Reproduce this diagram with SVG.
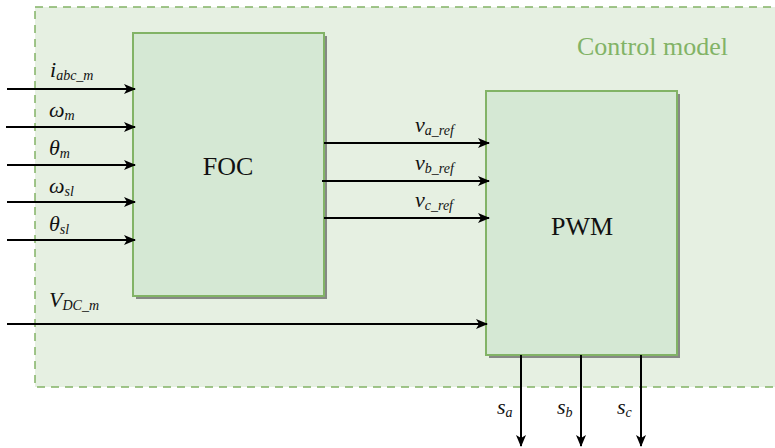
<svg xmlns="http://www.w3.org/2000/svg" width="775" height="448" viewBox="0 0 775 448" font-family="Liberation Serif">
<defs>
<marker id="ah" markerWidth="12" markerHeight="10" refX="11" refY="5" orient="auto" markerUnits="userSpaceOnUse">
<path d="M0,0 L12,5 L0,10 L3,5 Z" fill="#000"/>
</marker>
</defs>
<g id="container">
<rect x="35" y="7" width="760" height="380" fill="#e6f0e2" stroke="#82b366" stroke-width="1.5" stroke-dasharray="8,6"/>
<text x="577" y="55" font-family="Liberation Serif" font-size="26" fill="#82b366">Control model</text>
</g>
<g id="foc">
<rect x="136" y="36" width="191" height="263" fill="#666" opacity="0.75"/>
<rect x="133" y="33" width="191" height="263" fill="#d5e8d4" stroke="#82b366" stroke-width="2"/>
<text x="228" y="175" font-family="Liberation Serif" font-size="26" fill="#111" text-anchor="middle">FOC</text>
</g>
<g id="pwm">
<rect x="489" y="94" width="191" height="264" fill="#666" opacity="0.75"/>
<rect x="486" y="91" width="191" height="264" fill="#d5e8d4" stroke="#82b366" stroke-width="2"/>
<text x="582" y="235" font-family="Liberation Serif" font-size="26" fill="#111" text-anchor="middle">PWM</text>
</g>
<g id="connectors" stroke="#000" stroke-width="2" fill="none" marker-end="url(#ah)">
<line x1="7" y1="89" x2="135" y2="89"/>
<line x1="6" y1="127" x2="135" y2="127"/>
<line x1="7" y1="165" x2="135" y2="165"/>
<line x1="7" y1="202" x2="135" y2="202"/>
<line x1="7" y1="240" x2="135" y2="240"/>
<line x1="324" y1="143" x2="489" y2="143"/>
<line x1="322" y1="181" x2="489" y2="181"/>
<line x1="324" y1="218" x2="489" y2="218"/>
<line x1="7" y1="324" x2="487" y2="324"/>
<line x1="521" y1="355" x2="521" y2="446"/>
<line x1="581" y1="355" x2="581" y2="446"/>
<line x1="641" y1="355" x2="641" y2="446"/>
</g>
<g id="labels" fill="#111" font-family="Liberation Serif" font-style="italic" font-size="22">
<text x="50" y="77">i<tspan font-size="14" dy="3">abc_m</tspan></text>
<text x="49" y="117">ω<tspan font-size="14" dy="3">m</tspan></text>
<text x="49" y="155">θ<tspan font-size="14" dy="3">m</tspan></text>
<text x="49" y="193">ω<tspan font-size="14" dy="3">sl</tspan></text>
<text x="49" y="231">θ<tspan font-size="14" dy="3">sl</tspan></text>
<text x="415" y="132">v<tspan font-size="14" dy="3">a_ref</tspan></text>
<text x="415" y="170">v<tspan font-size="14" dy="3">b_ref</tspan></text>
<text x="415" y="207">v<tspan font-size="14" dy="3">c_ref</tspan></text>
<text x="49" y="307">V<tspan font-size="14" dy="3">DC_m</tspan></text>
<text x="497" y="414">s<tspan font-size="14" dy="3">a</tspan></text>
<text x="557" y="414">s<tspan font-size="14" dy="3">b</tspan></text>
<text x="617" y="414">s<tspan font-size="14" dy="3">c</tspan></text>
</g>
</svg>
